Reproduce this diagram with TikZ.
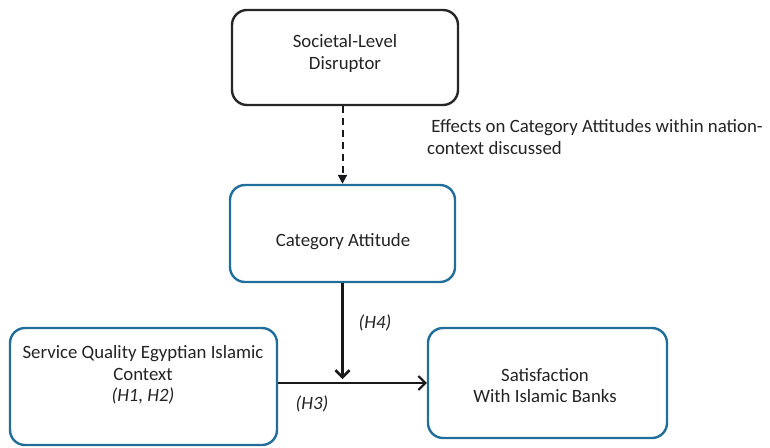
\documentclass[tikz,border=0pt]{standalone}
\usepackage{fontspec}
\setmainfont{Carlito}
\usetikzlibrary{arrows.meta}
\definecolor{boxblue}{RGB}{33,110,155}
\definecolor{txt}{RGB}{35,35,35}
\begin{document}
\begin{tikzpicture}[x=1pt,y=-1pt,
  every node/.style={text=txt,font=\fontsize{18.8}{21.5}\selectfont},
  blackbox/.style={draw=black!85,line width=2.4pt,rounded corners=15pt,inner sep=0pt},
  bluebox/.style={draw=boxblue,line width=2.4pt,rounded corners=15pt,inner sep=0pt},
  lbl/.style={align=center,inner sep=0pt},
  conn/.style={line width=2pt,draw=black!90}]
\useasboundingbox (0,0) rectangle (770,447);
% boxes
\node[blackbox,minimum width=226pt,minimum height=95pt] (soc) at (345,57.5) {};
\node[bluebox,minimum width=225pt,minimum height=97pt] (cat) at (342.5,233.5) {};
\node[bluebox,minimum width=267pt,minimum height=117pt] (serv) at (143.5,386.5) {};
\node[bluebox,minimum width=239pt,minimum height=110pt] (sat) at (547.5,383) {};
% texts
\node[lbl] (soct) at (345,53.5) {Societal-Level\\Disruptor};
\node[lbl] (catt) at (343,242) {Category Attitude};
\node[lbl] (servt) at (143,375) {Service Quality Egyptian Islamic\\Context\\\textit{(H1, H2)}};
\node[lbl] (satt) at (545,385.5) {Satisfaction\\With Islamic Banks};
\node[lbl,align=left,anchor=west] (eff) at (427,137) {\ Effects on Category Attitudes within nation-\\context discussed};
\node[lbl] (h4) at (375,323) {\textit{(H4)}};
\node[lbl] (h3) at (312,404) {\textit{(H3)}};
% connectors
\draw[conn,dash pattern=on 7pt off 5pt,-{Triangle[length=9pt,width=9pt]}] (soc.south -| cat.north) -- (cat.north);
\draw[conn,-{Straight Barb[length=7pt,width=14pt]}] (serv.east |- sat.west) -- (sat.west);
\coordinate (jn) at ([yshift=4pt]cat.south |- sat.west);
\draw[conn,line width=2.6pt,-{Straight Barb[length=7pt,width=14pt]}] (cat.south) -- (jn);
\end{tikzpicture}
\end{document}
